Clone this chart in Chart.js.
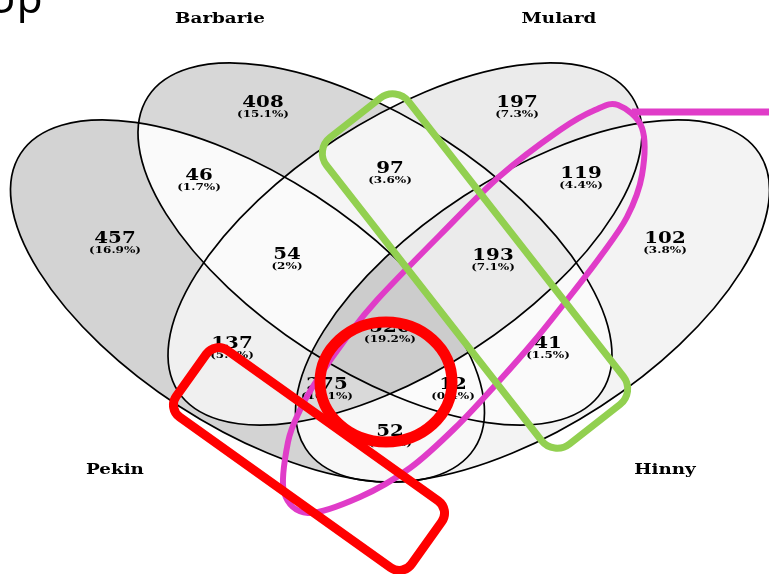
<!DOCTYPE html>
<html>
<head>
<meta charset="utf-8">
<script src="https://cdn.jsdelivr.net/npm/chart.js@4"></script>
<style>
body{margin:0;background:#fff}
#wrap{width:769px;height:574px}
</style>
</head>
<body>
<div id="wrap"><canvas id="venn" width="769" height="574"></canvas></div>
<script>
// sets: A = Pekin, B = Barbarie, C = Mulard, D = Hinny
var setNames = ["Pekin", "Barbarie", "Mulard", "Hinny"];
var setKeys = ["A", "B", "C", "D"];
var regions = ["A", "B", "C", "D", "AB", "BC", "CD", "AC", "BD", "AD", "ABC", "BCD", "ACD", "ABD", "ABCD"];
var counts = [457, 408, 197, 102, 46, 97, 119, 137, 41, 52, 54, 193, 275, 12, 520];
var percents = ["16.9%", "15.1%", "7.3%", "3.8%", "1.7%", "3.6%", "4.4%", "5.1%", "1.5%", "1.9%", "2%", "7.1%", "10.1%", "0.4%", "19.2%"];
var title = "Up";

// layout, in canvas units (y down)
var labelX = [115, 263, 517, 665, 199, 390, 581, 232, 548, 390, 287, 493, 327, 453, 390];
var labelY = [243, 107, 107, 243, 180, 173, 178, 348, 348, 436, 259, 260, 389, 389, 332];
var regionFill = ["#d3d3d3", "#d7d7d7", "#ebebeb", "#f3f3f3", "#fafafa", "#f5f5f5", "#f3f3f3",
                  "#f0f0f0", "#fafafa", "#f8f8f8", "#fafafa", "#ebebeb", "#d9d9d9", "#fbfbfb", "#cccccc"];
var nameX = [115, 220, 559, 665];
var nameY = [474, 23, 23, 474];
var ellipses = [
  {cx: 247.5, cy: 301, rot: 33},
  {cx: 375, cy: 244, rot: 33},
  {cx: 405, cy: 244, rot: -33},
  {cx: 532.5, cy: 301, rot: -33}
];
var semiA = 270.6, semiB = 125.4;

// hand drawn marks on top
var redCircle = {cx: 386, cy: 382, rx: 66, ry: 60};
var redBox = {cx: 309, cy: 459, w: 289, h: 82, r: 15, rot: 35.5};
var greenBox = {cx: 475, cy: 271, w: 389, h: 104, r: 20, rot: 52};
var pinkLoop = [[618,105],[642,128],[642,175],[627,217],[600,257],[567,300],[535,340],[500,380],
                [455,428],[410,468],[360,497],[308,513],[284,492],[288,442],[300,410],[317,380],
                [347,337],[377,300],[440,235],[500,176],[560,130],[595,110]];
var pinkTail = [[632,112],[769,112]];

function px(chart, x, y) {
  return [chart.scales.x.getPixelForValue(x), chart.scales.y.getPixelForValue(y)];
}
function len(chart, v) {
  return chart.scales.x.getPixelForValue(v) - chart.scales.x.getPixelForValue(0);
}

function ellipsePath(ctx, chart, e) {
  var c = px(chart, e.cx, e.cy);
  ctx.ellipse(c[0], c[1], len(chart, semiA), len(chart, semiB), e.rot * Math.PI / 180, 0, 2 * Math.PI);
}

function roundBox(ctx, chart, b) {
  var c = px(chart, b.cx, b.cy);
  var w = len(chart, b.w), h = len(chart, b.h), r = len(chart, b.r);
  ctx.save();
  ctx.translate(c[0], c[1]);
  ctx.rotate(b.rot * Math.PI / 180);
  var x = -w / 2, y = -h / 2;
  ctx.beginPath();
  ctx.moveTo(x + r, y);
  ctx.lineTo(x + w - r, y);
  ctx.arcTo(x + w, y, x + w, y + r, r);
  ctx.lineTo(x + w, y + h - r);
  ctx.arcTo(x + w, y + h, x + w - r, y + h, r);
  ctx.lineTo(x + r, y + h);
  ctx.arcTo(x, y + h, x, y + h - r, r);
  ctx.lineTo(x, y + r);
  ctx.arcTo(x, y, x + r, y, r);
  ctx.closePath();
  ctx.stroke();
  ctx.restore();
}

function smoothClosed(ctx, chart, pts) {
  var p = pts.map(function(q){ return px(chart, q[0], q[1]); });
  var n = p.length;
  ctx.beginPath();
  ctx.moveTo(p[0][0], p[0][1]);
  for (var i = 0; i < n; i++) {
    var p0 = p[(i - 1 + n) % n], p1 = p[i], p2 = p[(i + 1) % n], p3 = p[(i + 2) % n];
    ctx.bezierCurveTo(p1[0] + (p2[0] - p0[0]) / 6, p1[1] + (p2[1] - p0[1]) / 6,
                      p2[0] - (p3[0] - p1[0]) / 6, p2[1] - (p3[1] - p1[1]) / 6, p2[0], p2[1]);
  }
  ctx.closePath();
}

function wideText(ctx, str, x, y, font, sx) {
  ctx.save();
  ctx.translate(x, y);
  ctx.scale(sx, 1);
  ctx.font = font;
  ctx.textAlign = "center";
  ctx.textBaseline = "alphabetic";
  ctx.fillText(str, 0, 0);
  ctx.restore();
}

var vennPlugin = {
  id: "venn",
  beforeDatasetsDraw: function(chart) {
    var ctx = chart.ctx, W = chart.width, H = chart.height;
    // region fills
    regions.forEach(function(r, i) {
      ctx.save();
      setKeys.forEach(function(s, k) {
        ctx.beginPath();
        if (r.indexOf(s) < 0) ctx.rect(0, 0, W, H);
        ellipsePath(ctx, chart, ellipses[k]);
        ctx.clip("evenodd");
      });
      ctx.fillStyle = regionFill[i];
      ctx.fillRect(0, 0, W, H);
      ctx.restore();
    });
    // outlines
    ctx.save();
    ctx.strokeStyle = "#000";
    ctx.lineWidth = 1.7;
    ellipses.forEach(function(e) {
      ctx.beginPath();
      ellipsePath(ctx, chart, e);
      ctx.stroke();
    });
    ctx.restore();
  },
  afterDatasetsDraw: function(chart) {
    var ctx = chart.ctx;
    var meta = chart.getDatasetMeta(0);
    ctx.save();
    ctx.fillStyle = "#000";
    meta.data.forEach(function(pt, i) {
      wideText(ctx, String(counts[i]), pt.x, pt.y, "bold 16.5px 'DejaVu Serif'", 1.2);
      wideText(ctx, "(" + percents[i] + ")", pt.x, pt.y + 10, "bold 10px 'DejaVu Serif'", 1.2);
    });
    setNames.forEach(function(n, i) {
      var c = px(chart, nameX[i], nameY[i]);
      wideText(ctx, n, c[0], c[1], "bold 15px 'DejaVu Serif'", 1.22);
    });
    ctx.font = "42px 'Noto Sans'";
    ctx.textAlign = "left";
    ctx.fillText(title, -14, 13);
    ctx.restore();

    // overlay marks
    ctx.save();
    ctx.lineJoin = "round";
    ctx.lineCap = "round";
    ctx.strokeStyle = "#e03cc8";
    ctx.lineWidth = 6;
    smoothClosed(ctx, chart, pinkLoop);
    ctx.stroke();
    var t0 = px(chart, pinkTail[0][0], pinkTail[0][1]), t1 = px(chart, pinkTail[1][0], pinkTail[1][1]);
    ctx.lineWidth = 7;
    ctx.lineCap = "butt";
    ctx.beginPath();
    ctx.moveTo(t0[0], t0[1]);
    ctx.lineTo(t1[0], t1[1]);
    ctx.stroke();

    ctx.strokeStyle = "#92d050";
    ctx.lineWidth = 7;
    roundBox(ctx, chart, greenBox);

    ctx.strokeStyle = "#ff0000";
    ctx.lineWidth = 9;
    roundBox(ctx, chart, redBox);

    var c = px(chart, redCircle.cx, redCircle.cy);
    ctx.lineWidth = 11;
    ctx.beginPath();
    ctx.ellipse(c[0], c[1], len(chart, redCircle.rx), len(chart, redCircle.ry), 0, 0, 2 * Math.PI);
    ctx.stroke();
    ctx.restore();
  }
};

new Chart(document.getElementById("venn"), {
  type: "scatter",
  data: {
    datasets: [{
      data: regions.map(function(r, i){ return {x: labelX[i], y: labelY[i]}; }),
      pointRadius: 0,
      pointHoverRadius: 0
    }]
  },
  options: {
    responsive: false,
    animation: false,
    events: [],
    layout: {padding: 0},
    plugins: {legend: {display: false}, tooltip: {enabled: false}},
    scales: {
      x: {type: "linear", min: 0, max: 769, display: false},
      y: {type: "linear", min: 0, max: 574, reverse: true, display: false}
    }
  },
  plugins: [vennPlugin]
});
</script>
</body>
</html>
